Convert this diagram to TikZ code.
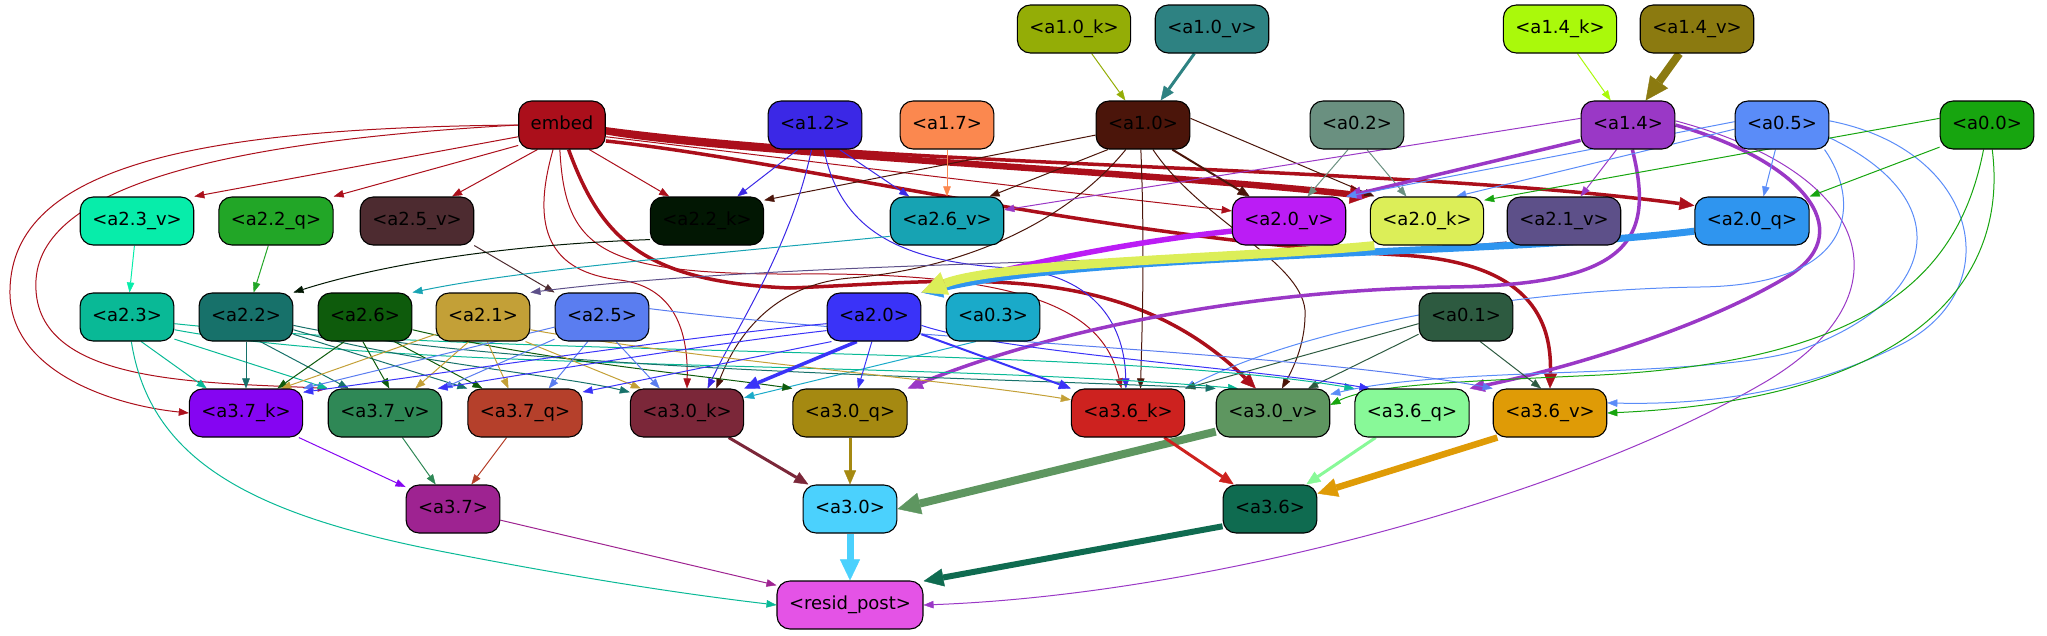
\documentclass[tikz,border=0pt]{standalone}
\usepackage{fontspec}
\setmainfont{DejaVu Sans}
\usetikzlibrary{arrows.meta}
\pgfdeclarelayer{bg}
\pgfsetlayers{bg,main}
\definecolor{cemb}{HTML}{AB0F1B}
\definecolor{c10k}{HTML}{94AD06}
\definecolor{c10v}{HTML}{2E8282}
\definecolor{c10}{HTML}{4B150A}
\definecolor{c12}{HTML}{3B28E6}
\definecolor{c17}{HTML}{FB884F}
\definecolor{c02}{HTML}{6A9080}
\definecolor{c14k}{HTML}{AAF90B}
\definecolor{c14v}{HTML}{8B7A10}
\definecolor{c14}{HTML}{9A38C6}
\definecolor{c05}{HTML}{5A8CF8}
\definecolor{c00}{HTML}{17A50F}
\definecolor{c23v}{HTML}{07EDAA}
\definecolor{c22q}{HTML}{22A627}
\definecolor{c25v}{HTML}{4D2B30}
\definecolor{c22k}{HTML}{021703}
\definecolor{c26v}{HTML}{17A3B3}
\definecolor{c20v}{HTML}{BB1CF5}
\definecolor{c20k}{HTML}{DCEE58}
\definecolor{c21v}{HTML}{5D5089}
\definecolor{c20q}{HTML}{2F95EF}
\definecolor{c23}{HTML}{09B996}
\definecolor{c22}{HTML}{17716A}
\definecolor{c26}{HTML}{0E5B0C}
\definecolor{c21}{HTML}{C3A037}
\definecolor{c25}{HTML}{5A7DF0}
\definecolor{c20}{HTML}{3A33F8}
\definecolor{c03}{HTML}{1AAAC9}
\definecolor{c01}{HTML}{2D5A40}
\definecolor{c37k}{HTML}{8505F2}
\definecolor{c37v}{HTML}{2F8856}
\definecolor{c37q}{HTML}{B5402B}
\definecolor{c30k}{HTML}{7B2739}
\definecolor{c30q}{HTML}{A58911}
\definecolor{c36k}{HTML}{CD221F}
\definecolor{c30v}{HTML}{5E9660}
\definecolor{c36q}{HTML}{88F998}
\definecolor{c36v}{HTML}{DF9B06}
\definecolor{c37}{HTML}{9E2391}
\definecolor{c30}{HTML}{4BD1FD}
\definecolor{c36}{HTML}{0F6B50}
\definecolor{cres}{HTML}{E453E6}
\tikzset{
  nd/.style={rectangle, rounded corners=13pt, draw=black, line width=1.1pt, minimum height=48pt,
    inner xsep=12pt, inner ysep=0pt, font=\fontsize{18}{22}\selectfont, text height=13pt, text depth=4pt, text=black},
  wa/.style={line width=1pt, -{Triangle[length=10pt,width=7.5pt,line width=0.4pt]}},
  wb/.style={line width=2pt, -{Triangle[length=12pt,width=10pt,line width=0.4pt]}},
  wc/.style={line width=3.5pt, -{Triangle[length=15pt,width=13pt,line width=0.4pt]}},
  wd/.style={line width=5.5pt, -{Triangle[length=18pt,width=17pt,line width=0.4pt]}},
  wf/.style={line width=8pt, -{Triangle[length=23pt,width=22pt,line width=0.4pt]}},
}
\begin{document}
\begin{tikzpicture}[x=1pt,y=-1pt]
\useasboundingbox (0,0) rectangle (2047,635);
% row 0
\node[nd,fill=c10k] (a10k) at (1074,29) {<a1.0\_k>};
\node[nd,fill=c10v] (a10v) at (1212,29) {<a1.0\_v>};
\node[nd,fill=c14k] (a14k) at (1560,29) {<a1.4\_k>};
\node[nd,fill=c14v] (a14v) at (1697,29) {<a1.4\_v>};
% row 1
\node[nd,fill=cemb] (embed) at (562,125) {embed};
\node[nd,fill=c12] (a12) at (815,125) {<a1.2>};
\node[nd,fill=c17] (a17) at (947,125) {<a1.7>};
\node[nd,fill=c10] (a10) at (1143,125) {<a1.0>};
\node[nd,fill=c02] (a02) at (1357,125) {<a0.2>};
\node[nd,fill=c14] (a14) at (1628,125) {<a1.4>};
\node[nd,fill=c05] (a05) at (1782,125) {<a0.5>};
\node[nd,fill=c00] (a00) at (1987,125) {<a0.0>};
% row 2
\node[nd,fill=c23v] (a23v) at (137,221) {<a2.3\_v>};
\node[nd,fill=c22q] (a22q) at (276,221) {<a2.2\_q>};
\node[nd,fill=c25v] (a25v) at (417,221) {<a2.5\_v>};
\node[nd,fill=c22k] (a22k) at (707,221) {<a2.2\_k>};
\node[nd,fill=c26v] (a26v) at (947,221) {<a2.6\_v>};
\node[nd,fill=c20v] (a20v) at (1289,221) {<a2.0\_v>};
\node[nd,fill=c20k] (a20k) at (1427,221) {<a2.0\_k>};
\node[nd,fill=c21v] (a21v) at (1564,221) {<a2.1\_v>};
\node[nd,fill=c20q] (a20q) at (1752,221) {<a2.0\_q>};
% row 3
\node[nd,fill=c23] (a23) at (127,317) {<a2.3>};
\node[nd,fill=c22] (a22) at (246,317) {<a2.2>};
\node[nd,fill=c26] (a26) at (365,317) {<a2.6>};
\node[nd,fill=c21] (a21) at (483,317) {<a2.1>};
\node[nd,fill=c25] (a25) at (602,317) {<a2.5>};
\node[nd,fill=c20] (a20) at (874,317) {<a2.0>};
\node[nd,fill=c03] (a03) at (993,317) {<a0.3>};
\node[nd,fill=c01] (a01) at (1466,317) {<a0.1>};
% row 4
\node[nd,fill=c37k] (a37k) at (246,413) {<a3.7\_k>};
\node[nd,fill=c37v] (a37v) at (385,413) {<a3.7\_v>};
\node[nd,fill=c37q] (a37q) at (525,413) {<a3.7\_q>};
\node[nd,fill=c30k] (a30k) at (687,413) {<a3.0\_k>};
\node[nd,fill=c30q] (a30q) at (850,413) {<a3.0\_q>};
\node[nd,fill=c36k] (a36k) at (1128,413) {<a3.6\_k>};
\node[nd,fill=c30v] (a30v) at (1273,413) {<a3.0\_v>};
\node[nd,fill=c36q] (a36q) at (1412,413) {<a3.6\_q>};
\node[nd,fill=c36v] (a36v) at (1550,413) {<a3.6\_v>};
% row 5
\node[nd,fill=c37] (a37) at (453,509) {<a3.7>};
\node[nd,fill=c30] (a30) at (850,509) {<a3.0>};
\node[nd,fill=c36] (a36) at (1270,509) {<a3.6>};
% row 6
\node[nd,fill=cres] (rp) at (850,605) {<resid\_post>};

\begin{pgfonlayer}{bg}
% ---- embed
\draw[wa,cemb] (embed.west) .. controls (200,128) and (12,165) .. (10,290) .. controls (8,370) and (110,405) .. (a37k.west);
\draw[wa,cemb] (embed.west) .. controls (250,140) and (42,180) .. (36,280) .. controls (30,385) and (200,382) .. (a37v.north west);
\draw[wa,cemb] (embed.195) -- (a23v.north east);
\draw[wa,cemb] (embed.205) -- (a22q.north east);
\draw[wa,cemb] (embed.225) -- (a25v.35);
\draw[wa,cemb] (embed.318) -- (a22k.147);
\draw[wa,cemb] (embed.250) .. controls (530,230) and (550,272) .. (620,280) .. controls (680,288) and (688,340) .. (a30k.north);
\draw[wa,cemb] (embed.265) .. controls (565,250) and (600,275) .. (800,274) .. controls (1050,272) and (1105,320) .. (a36k.105);
\draw[wa,cemb] (embed.345) .. controls (800,160) and (1000,185) .. (a20v.170);
\draw[wc,cemb] (embed.285) .. controls (600,235) and (640,282) .. (790,288) .. controls (950,282) and (1120,255) .. (a30v.125);
\draw[wc,cemb] (embed.340) .. controls (800,162) and (1100,238) .. (1400,255) .. controls (1530,262) and (1552,320) .. (a36v.north);
\draw[wc,cemb] (embed.355) .. controls (900,168) and (1400,166) .. (a20q.165);
\draw[line width=6.5pt,cemb,-{Triangle[length=20pt,width=19pt,line width=0.4pt]}] (embed.352) .. controls (720,152) and (1150,172) .. (a20k.north west);
% ---- a1.0
\draw[wa,c10k] (a10k) -- (a10);
\draw[line width=3pt,c10v,-{Triangle[length=14pt,width=12pt,line width=0.4pt]}] (a10v) -- (a10);
\draw[wa,c10] (a10.192) -- (a22k.20);
\draw[wa,c10] (a10.215) -- (a26v.30);
\draw[wb,c10] (a10.320) -- (a20v.148);
\draw[wa,c10] (a10.8) -- (a20k.155);
\draw[wa,c10] (a10.235) .. controls (1060,230) and (950,270) .. (850,278) .. controls (770,285) and (735,340) .. (a30k.40);
\draw[wa,c10] (a10.265) .. controls (1145,250) and (1142,330) .. (a36k.63);
\draw[wa,c10] (a10.292) .. controls (1200,220) and (1300,260) .. (1305,310) .. controls (1306,340) and (1295,365) .. (a30v.70);
% ---- a1.2
\draw[wa,c12] (a12.235) -- (a22k.39);
\draw[wa,c12] (a12.315) -- (a26v.147);
\draw[wa,c12] (a12.262) .. controls (790,250) and (735,330) .. (a30k.50);
\draw[wa,c12] (a12.290) .. controls (840,230) and (900,262) .. (1010,268) .. controls (1100,275) and (1125,330) .. (a36k.95);
\draw[wa,c17] (a17) -- (a26v);
% ---- a0.2
\draw[wa,c02] (a02.250) -- (a20v.53);
\draw[wa,c02] (a02.292) -- (a20k.130);
% ---- a1.4
\draw[wa,c14k] (a14k) -- (a14);
\draw[wf,c14v] (a14v) -- (a14);
\draw[wa,c14] (a14.172) -- (a26v.11);
\draw[wa,c14] (a14.245) -- (a21v.56);
\draw[wc,c14] (a14.280) .. controls (1655,240) and (1630,285) .. (1450,287) .. controls (1250,290) and (1050,330) .. (a30q.north east);
\draw[wc,c14] (a14.east) .. controls (1800,160) and (1860,230) .. (1790,275) .. controls (1700,330) and (1560,370) .. (a36q.north east);
\draw[wa,c14] (a14.5) .. controls (1880,175) and (1910,300) .. (1760,385) .. controls (1560,500) and (1200,595) .. (rp.east);
% ---- a0.5
\draw[wa,c05] (a05.255) -- (a20q.65);
\draw[wa,c05] (a05.185) -- (a20k.40);
\draw[wa,c05] (a05.330) .. controls (1860,200) and (1860,285) .. (1700,287) .. controls (1500,290) and (1300,330) .. (a36k.north east);
\draw[wa,c05] (a05.345) .. controls (1960,200) and (1940,300) .. (1800,350) .. controls (1700,380) and (1450,365) .. (a30v.18);
\draw[wa,c05] (a05.5) .. controls (1980,150) and (2010,290) .. (1900,345) .. controls (1800,395) and (1700,405) .. (a36v.10);
% ---- a0.0
\draw[wa,c00] (a00.205) -- (a20q.north east);
\draw[wa,c00] (a00.172) -- (a20k.20);
\draw[wa,c00] (a00.262) .. controls (1960,270) and (1880,360) .. (1600,375) .. controls (1450,382) and (1370,385) .. (a30v.8);
\draw[wa,c00] (a00.282) .. controls (2010,290) and (1900,400) .. (a36v.0);
% ---- a0.1, a0.3
\draw[wa,c01] (a01.300) -- (a36v.110);
\draw[wa,c01] (a01.200) -- (a30v.35);
\draw[wa,c01] (a01.188) -- (a36k.north east);
\draw[wa,c03] (a03.235) -- (a30k.15);
% ---- row 2 -> row 3
\draw[wa,c23v] (a23v) -- (a23);
\draw[wa,c22q] (a22q) -- (a22);
\draw[wa,c25v] (a25v.south east) -- (a25.north west);
\draw[wa,c22k] (a22k.198) .. controls (500,245) and (380,265) .. (a22.north east);
\draw[wa,c26v] (a26v.195) .. controls (700,255) and (520,270) .. (a26.north east);
\draw[wa,c21v] (a21v.200) .. controls (1300,262) and (800,258) .. (a21.north east);
% ---- a1.4 -> a2.0_v and thick edges into a2.0
\draw[wc,c14] (a14.198) -- (a20v.north east);
\draw[wa,c05] (a05.176) -- (a20v.north east);
\draw[wd,c20v] (a20v.190) .. controls (1100,245) and (980,275) .. (a20.north east);
\draw[line width=7pt,c20q,-{Triangle[length=21pt,width=20pt,line width=0.4pt]}] (a20q.190) .. controls (1500,255) and (1100,252) .. (a20.north east);
\draw[line width=9pt,c20k,-{Triangle[length=25pt,width=24pt,line width=0.4pt]}] (a20k.205) .. controls (1250,258) and (1000,262) .. (a20.north east);
% ---- a2.3
\draw[wa,c23] (a23.300) -- (a37k.148);
\draw[wa,c23] (a23.335) -- (a37v.north west);
\draw[wa,c23] (a23.345) .. controls (400,372) and (900,360) .. (a30v.145);
\draw[wa,c23] (a23.352) .. controls (500,358) and (1100,345) .. (a36q.north west);
\draw[wa,c23] (a23.280) .. controls (150,460) and (250,515) .. (450,553) .. controls (600,582) and (700,596) .. (rp.west);
% ---- a2.2
\draw[wa,c22] (a22.south) -- (a37k.north);
\draw[wa,c22] (a22.300) -- (a37v.146);
\draw[wa,c22] (a22.340) -- (a37q.north west);
\draw[wa,c22] (a22.345) .. controls (400,362) and (560,375) .. (a30k.160);
\draw[wa,c22] (a22.350) .. controls (500,370) and (1000,378) .. (a30v.north west);
% ---- a2.6
\draw[wa,c26] (a26.230) -- (a37k.38);
\draw[wa,c26] (a26.265) -- (a37v.80);
\draw[wa,c26] (a26.320) -- (a37q.150);
\draw[wa,c26] (a26.345) .. controls (550,362) and (700,375) .. (a30q.north west);
% ---- a2.1
\draw[wa,c21] (a21.200) -- (a37k.35);
\draw[wa,c21] (a21.240) -- (a37v.39);
\draw[wa,c21] (a21.280) -- (a37q.124);
\draw[wa,c21] (a21.330) -- (a30k.152);
\draw[wa,c21] (a21.345) .. controls (700,360) and (950,380) .. (a36k.167);
% ---- a2.5
\draw[wa,c25] (a25.192) -- (a37k.north east);
\draw[wa,c25] (a25.205) -- (a37v.north east);
\draw[wa,c25] (a25.240) -- (a37q.46);
\draw[wa,c25] (a25.300) -- (a30k.138);
\draw[wa,c25] (a25.10) .. controls (900,340) and (1300,352) .. (a36v.north west);
% ---- a2.0
\draw[wa,c20] (a20.188) .. controls (700,335) and (450,372) .. (a37k.20);
\draw[wa,c20] (a20.196) .. controls (700,345) and (520,375) .. (a37v.25);
\draw[wa,c20] (a20.210) -- (a37q.20);
\draw[wc,c20] (a20.235) -- (a30k.north east);
\draw[wa,c20] (a20.265) -- (a30q.72);
\draw[wb,c20] (a20.340) -- (a36k.north west);
\draw[wa,c20] (a20.350) .. controls (1000,352) and (1250,368) .. (a36q.150);
% ---- row 4 -> row 5
\draw[wa,c37k] (a37k) -- (a37);
\draw[wa,c37v] (a37v) -- (a37);
\draw[wa,c37q] (a37q) -- (a37);
\draw[line width=3pt,c30k,-{Triangle[length=14pt,width=12pt,line width=0.4pt]}] (a30k) -- (a30);
\draw[line width=3pt,c30q,-{Triangle[length=14pt,width=12pt,line width=0.4pt]}] (a30q) -- (a30);
\draw[wf,c30v] (a30v.198) -- (a30.east);
\draw[line width=3pt,c36k,-{Triangle[length=14pt,width=12pt,line width=0.4pt]}] (a36k) -- (a36);
\draw[line width=3pt,c36q,-{Triangle[length=14pt,width=12pt,line width=0.4pt]}] (a36q) -- (a36);
\draw[line width=6.5pt,c36v,-{Triangle[length=20pt,width=19pt,line width=0.4pt]}] (a36v.205) -- (a36.18);
% ---- to resid_post
\draw[wa,c37] (a37) -- (rp.165);
\draw[line width=7pt,c30,-{Triangle[length=21pt,width=20pt,line width=0.4pt]}] (a30) -- (rp);
\draw[line width=6pt,c36,-{Triangle[length=20pt,width=18pt,line width=0.4pt]}] (a36.200) -- (rp.18);
\end{pgfonlayer}
\end{tikzpicture}
\end{document}
